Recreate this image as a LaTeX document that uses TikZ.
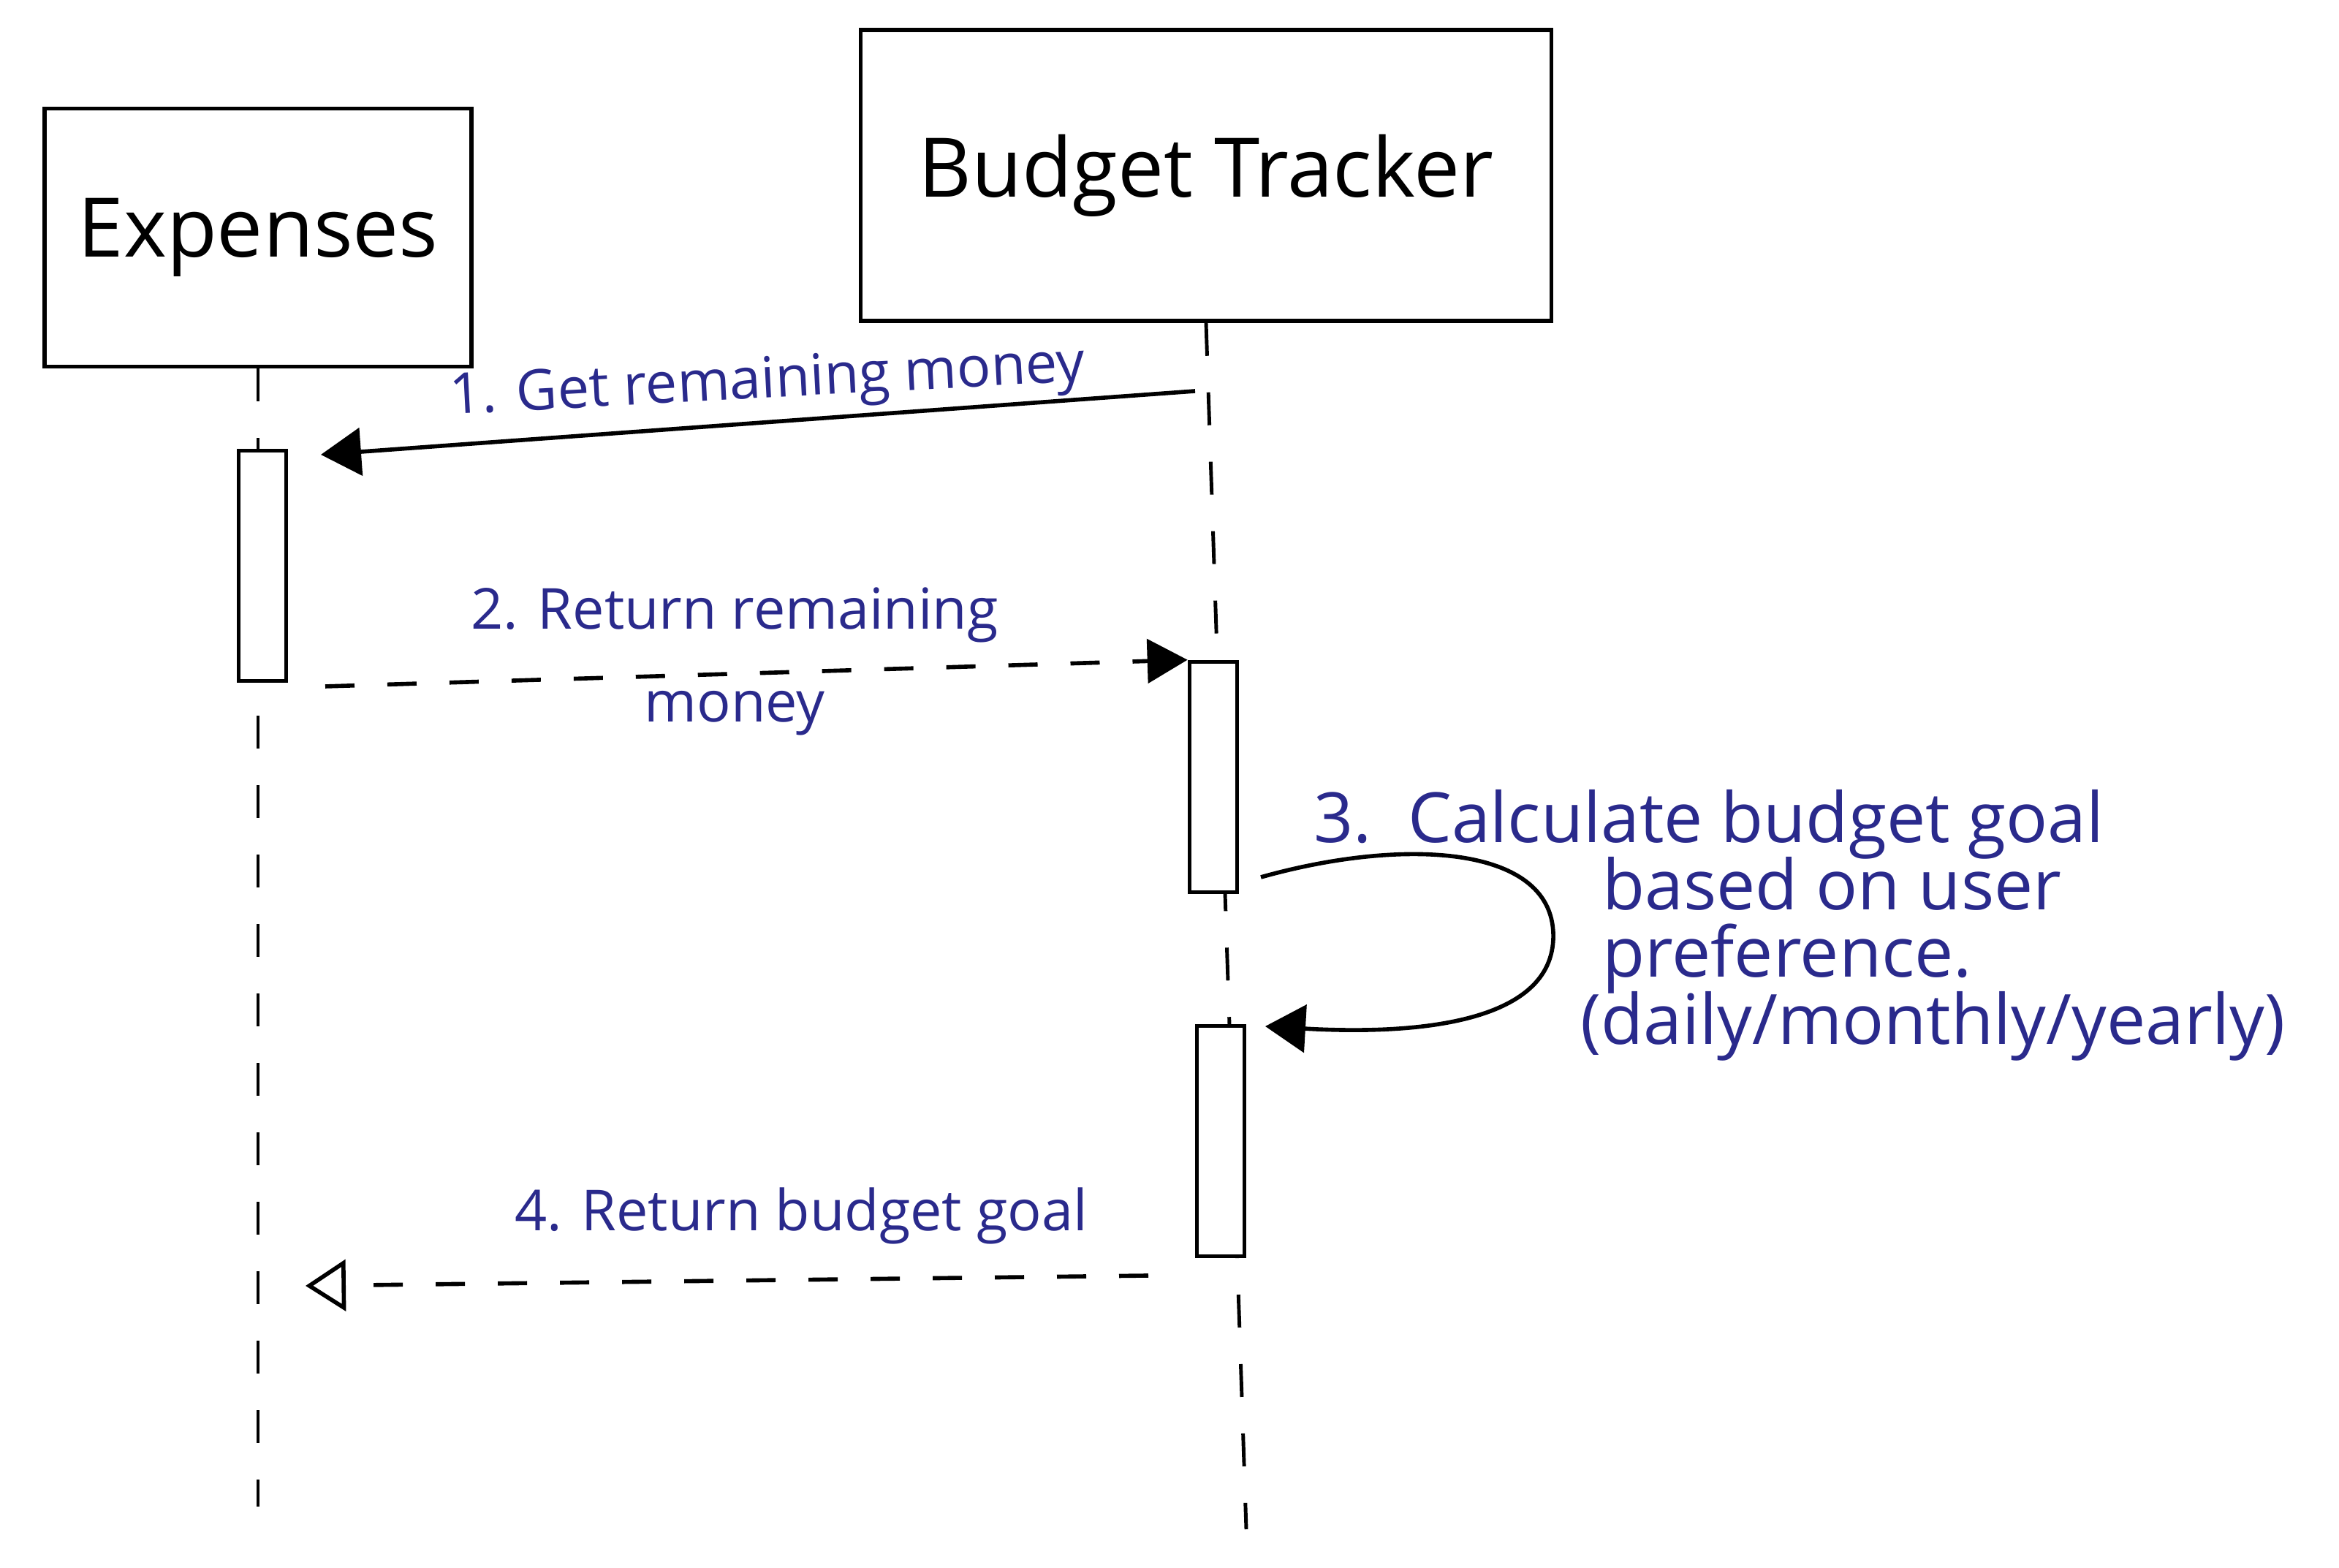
\documentclass[tikz,border=0pt]{standalone}
\usepackage{fontspec}
\setmainfont{Open Sans}
\usetikzlibrary{arrows.meta, positioning}
\definecolor{ink1}{RGB}{42,42,140}

\begin{document}
\begin{tikzpicture}[
    actor/.style={rectangle, draw, line width=1.6pt, font=\fontsize{32}{38}\selectfont},
    activ/.style={rectangle, draw, fill=white, line width=1.6pt, minimum width=0.65cm, minimum height=3.15cm},
    lifeline/.style={line width=1.4pt, dash pattern=on 0.45cm off 0.5cm},
    msg/.style={-{Triangle[length=0.55cm, width=0.65cm]}, line width=1.6pt},
    reply/.style={-{Triangle[length=0.55cm, width=0.6cm]}, line width=1.6pt, dash pattern=on 0.4cm off 0.45cm},
    replyopen/.style={-{Triangle[open, length=0.55cm, width=0.7cm, line width=1.6pt]}, line width=1.6pt, dash pattern=on 0.4cm off 0.45cm},
    msglabel/.style={text=ink1, font=\fontsize{22}{26}\selectfont},
    notelabel/.style={text=ink1, anchor=base west, font=\fontsize{27}{30}\selectfont}
]
\useasboundingbox (0,0) rectangle (32,21.45);

% Participants
\node[actor, minimum width=5.84cm, minimum height=3.53cm] (exp) at (3.53,18.2) {Expenses};
\node[actor, minimum width=9.45cm, minimum height=3.98cm] (bt) at (16.5,19.05) {Budget Tracker};

% Lifelines
\coordinate (expend) at (3.53,0.84);
\coordinate (btend) at (17.05,0.53);
\draw[lifeline] (exp.south) -- (expend);
\draw[lifeline] (bt.south) -- (btend);

% Activation boxes
\node[activ] (expact) at (3.59,13.71) {};
\node[activ] (btact1) at (16.6,10.82) {};
\node[activ] (btact2) at (16.7,5.84) {};

% 1. request
\coordinate (m1a) at (16.35,16.10);
\coordinate (m1b) at (4.39,15.23);
\draw[msg] (m1a) -- (m1b);
\node[msglabel, rotate=3] (l1) at (10.5,16.2) {1. Get remaining money};

% 2. answer
\coordinate (m2a) at (4.45,12.06);
\draw[reply] (m2a) -- (btact1.north west);
\node[msglabel, align=center, font=\fontsize{22}{36}\selectfont] (l2) at (10.05,12.4) {2. Return remaining\\money};

% 3. self call
\coordinate (m3a) at (17.25,9.45);
\coordinate (m3b) at (17.31,7.41);
\draw[msg] (m3a) .. controls (19.2,10.0) and (21.3,9.9) .. (21.25,8.6)
               .. controls (21.2,7.4) and (19.2,7.3) .. (m3b);
\node[notelabel] (l3) at (17.85,9.92) {3.\ \ Calculate budget goal};
\node[notelabel] (l3b) at (21.8,9.0) {based on user};
\node[notelabel] (l3c) at (21.8,8.08) {preference.};
\node[notelabel] (l3d) at (21.5,7.16) {(daily/monthly/yearly)};

% 4. answer
\coordinate (m4a) at (15.71,4.0);
\coordinate (m4b) at (4.18,3.86);
\draw[replyopen] (m4a) -- (m4b);
\node[msglabel] (l4) at (10.96,4.82) {4. Return budget goal};

\end{tikzpicture}
\end{document}
